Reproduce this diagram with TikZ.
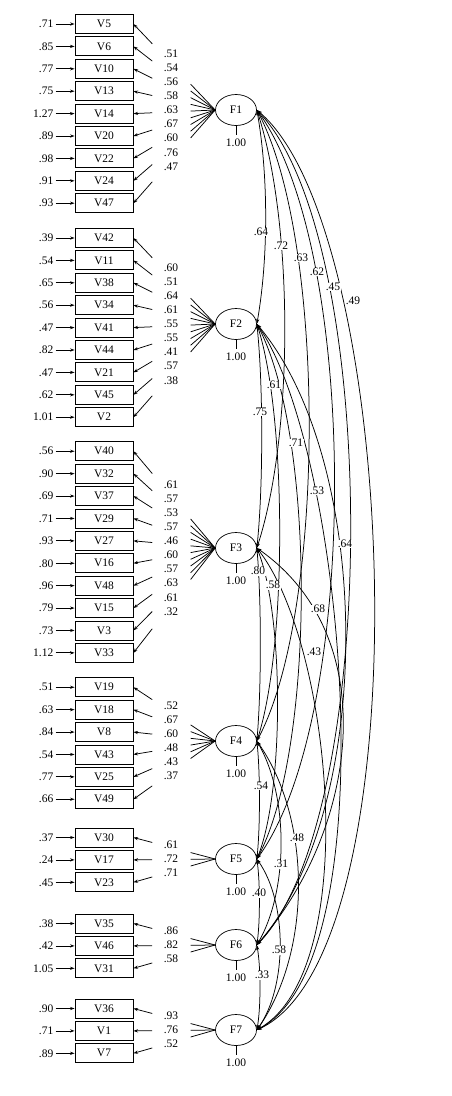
\documentclass[tikz,border=0pt]{standalone}
\usepackage{fontspec}
\setmainfont{Liberation Serif}
\usetikzlibrary{positioning,calc,arrows.meta,shapes.geometric}
\tikzset{
  vbox/.style={draw,rectangle,minimum width=58pt,minimum height=19pt,
               inner sep=0pt,line width=0.9pt},
  fac/.style={draw,ellipse,minimum width=41pt,minimum height=31pt,
              inner sep=0pt,line width=0.7pt},
  errlbl/.style={inner sep=2pt},
  ldlbl/.style={inner sep=0.5pt},
  corlbl/.style={fill=white,inner sep=0.6pt},
  varlbl/.style={inner sep=1pt},
  ld/.style={line width=0.75pt},
  arr/.style={-{Stealth[length=4.5pt,width=3.2pt]},line width=0.75pt},
  cov/.style={{Stealth[length=5pt,width=3.2pt]}-{Stealth[length=5pt,width=3.2pt]},
              line width=0.75pt},
}

\begin{document}
\begin{tikzpicture}[x=1pt,y=1pt,node distance=2.5pt,
  font=\fontsize{11.5}{13}\selectfont]
\useasboundingbox (0,0) rectangle (452,-1096);

% factors
\node[fac] (f1) at (236,-110) {F1};
\node[fac] (f2) at (236,-324) {F2};
\node[fac] (f3) at (236,-548) {F3};
\node[fac] (f4) at (236,-741) {F4};
\node[fac] (f5) at (236,-859) {F5};
\node[fac] (f6) at (236,-945) {F6};
\node[fac] (f7) at (236,-1030) {F7};

% observed variables
\node[vbox] (v5) at (104,-24) {V5};
\node[vbox, below=of v5] (v6) {V6};
\node[vbox, below=of v6] (v10) {V10};
\node[vbox, below=of v10] (v13) {V13};
\node[vbox, below=of v13] (v14) {V14};
\node[vbox, below=of v14] (v20) {V20};
\node[vbox, below=of v20] (v22) {V22};
\node[vbox, below=of v22] (v24) {V24};
\node[vbox, below=of v24] (v47) {V47};

\node[vbox] (v42) at (104,-238) {V42};
\node[vbox, below=of v42] (v11) {V11};
\node[vbox, below=of v11] (v38) {V38};
\node[vbox, below=of v38] (v34) {V34};
\node[vbox, below=of v34] (v41) {V41};
\node[vbox, below=of v41] (v44) {V44};
\node[vbox, below=of v44] (v21) {V21};
\node[vbox, below=of v21] (v45) {V45};
\node[vbox, below=of v45] (v2) {V2};

\node[vbox] (v40) at (104,-451.25) {V40};
\node[vbox, below=of v40] (v32) {V32};
\node[vbox, below=of v32] (v37) {V37};
\node[vbox, below=of v37] (v29) {V29};
\node[vbox, below=of v29] (v27) {V27};
\node[vbox, below=of v27] (v16) {V16};
\node[vbox, below=of v16] (v48) {V48};
\node[vbox, below=of v48] (v15) {V15};
\node[vbox, below=of v15] (v3) {V3};
\node[vbox, below=of v3] (v33) {V33};

\node[vbox] (v19) at (104,-687.25) {V19};
\node[vbox, below=of v19] (v18) {V18};
\node[vbox, below=of v18] (v8) {V8};
\node[vbox, below=of v8] (v43) {V43};
\node[vbox, below=of v43] (v25) {V25};
\node[vbox, below=of v25] (v49) {V49};

\node[vbox] (v30) at (104,-837.5) {V30};
\node[vbox, below=of v30] (v17) {V17};
\node[vbox, below=of v17] (v23) {V23};

\node[vbox] (v35) at (104,-923.5) {V35};
\node[vbox, below=of v35] (v46) {V46};
\node[vbox, below=of v46] (v31) {V31};

\node[vbox] (v36) at (104,-1008.5) {V36};
\node[vbox, below=of v36] (v1) {V1};
\node[vbox, below=of v1] (v7) {V7};

% error variances
\foreach \b/\e in {v5/.71,v6/.85,v10/.77,v13/.75,v14/1.27,v20/.89,v22/.98,
    v24/.91,v47/.93,v42/.39,v11/.54,v38/.65,v34/.56,v41/.47,v44/.82,v21/.47,
    v45/.62,v2/1.01,v40/.56,v32/.90,v37/.69,v29/.71,v27/.93,v16/.80,v48/.96,
    v15/.79,v3/.73,v33/1.12,v19/.51,v18/.63,v8/.84,v43/.54,v25/.77,v49/.66,
    v30/.37,v17/.24,v23/.45,v35/.38,v46/.42,v31/1.05,v36/.90,v1/.71,v7/.89}{
  \node[errlbl, left=19pt of \b] (e\b) {\e};
  \draw[arr] (e\b) -- (\b);
}

% loadings
\foreach \f/\bs in {f1/{v5,v6,v10,v13,v14,v20,v22,v24,v47},
    f2/{v42,v11,v38,v34,v41,v44,v21,v45,v2},
    f3/{v40,v32,v37,v29,v27,v16,v48,v15,v3,v33},
    f4/{v19,v18,v8,v43,v25,v49},f5/{v30,v17,v23},f6/{v35,v46,v31},
    f7/{v36,v1,v7}}{
  \foreach \b in \bs {
    \draw[ld] (\f.west) -- ($(\f.west)!0.3!(\b.east)$);
    \draw[arr] ($(\f.west)!0.77!(\b.east)$) -- (\b.east);
  }
}
\foreach \f/\m/\ls in {f1/5/{.51,.54,.56,.58,.63,.67,.60,.76,.47},
    f2/5/{.60,.51,.64,.61,.55,.55,.41,.57,.38},
    f3/5.5/{.61,.57,.53,.57,.46,.60,.57,.63,.61,.32},
    f4/3.5/{.52,.67,.60,.48,.43,.37},f5/2/{.61,.72,.71},
    f6/2/{.86,.82,.58},f7/2/{.93,.76,.52}}{
  \foreach \l [count=\k] in \ls
    \node[ldlbl] (a\f-\k) at ($(\f)+(-65,{(\m-\k)*14.1})$) {\l};
}

% factor variances
\foreach \f in {f1,f2,f3,f4,f5,f6,f7}{
  \draw[ld] (\f.south) -- ++(0,-9.5) coordinate (t\f);
  \node[varlbl, below=2.5pt of t\f] (u\f) {1.00};
}

% correlations
\draw[cov] (f1.east) to[out=-80,in=80,looseness=0.8] (f2.east);
\draw[cov] (f1.east) to[out=-72,in=72,looseness=0.7] (f3.east);
\draw[cov] (f1.east) to[out=-62,in=62,looseness=0.6] (f4.east);
\draw[cov] (f1.east) to[out=-54,in=54,looseness=0.6] (f5.east);
\draw[cov] (f1.east) to[out=-46,in=46,looseness=0.55] (f6.east);
\draw[cov] (f1.east) to[out=-40,in=25,looseness=0.52] (f7.east);
\draw[cov] (f2.east) to[out=-84,in=84,looseness=0.7] (f3.east);
\draw[cov] (f2.east) to[out=-72,in=72,looseness=0.6] (f4.east);
\draw[cov] (f2.east) to[out=-62,in=62,looseness=0.6] (f5.east);
\draw[cov] (f2.east) to[out=-50,in=49,looseness=0.75] (f6.east);
\draw[cov] (f2.east) to[out=-55,in=28,looseness=0.55] (f7.east);
\draw[cov] (f3.east) to[out=-85,in=85,looseness=0.7] (f4.east);
\draw[cov] (f3.east) to[out=-68,in=68,looseness=0.6] (f5.east);
\draw[cov] (f3.east) to[out=-35,in=49,looseness=1.0] (f6.east);
\draw[cov] (f3.east) to[out=-52,in=30,looseness=0.65] (f7.east);
\draw[cov] (f4.east) to[out=-84,in=84,looseness=0.7] (f5.east);
\draw[cov] (f4.east) to[out=-60,in=60,looseness=0.8] (f6.east);
\draw[cov] (f4.east) to[out=-55,in=55,looseness=0.85] (f7.east);
\draw[cov] (f5.east) to[out=-82,in=82,looseness=0.7] (f6.east);
\draw[cov] (f5.east) to[out=-55,in=55,looseness=0.8] (f7.east);
\draw[cov] (f6.east) to[out=-80,in=80,looseness=0.7] (f7.east);

\node[corlbl] (r12) at (261,-232) {.64};
\node[corlbl] (r13) at (281,-246) {.72};
\node[corlbl] (r14) at (301,-258) {.63};
\node[corlbl] (r15) at (317,-272) {.62};
\node[corlbl] (r16) at (333,-287) {.45};
\node[corlbl] (r17) at (353,-301) {.49};
\node[corlbl] (r23) at (260,-412) {.75};
\node[corlbl] (r24) at (274,-385) {.61};
\node[corlbl] (r25) at (296,-443) {.71};
\node[corlbl] (r26) at (345,-544) {.64};
\node[corlbl] (r27) at (317,-491) {.53};
\node[corlbl] (r34) at (258,-571) {.80};
\node[corlbl] (r35) at (273,-585) {.58};
\node[corlbl] (r36) at (318,-609) {.68};
\node[corlbl] (r37) at (314,-652) {.43};
\node[corlbl] (r45) at (261,-786) {.54};
\node[corlbl] (r46) at (281,-864) {.31};
\node[corlbl] (r47) at (297,-838) {.48};
\node[corlbl] (r56) at (259,-893) {.40};
\node[corlbl] (r57) at (279,-950) {.58};
\node[corlbl] (r67) at (262,-975) {.33};
\end{tikzpicture}
\end{document}
